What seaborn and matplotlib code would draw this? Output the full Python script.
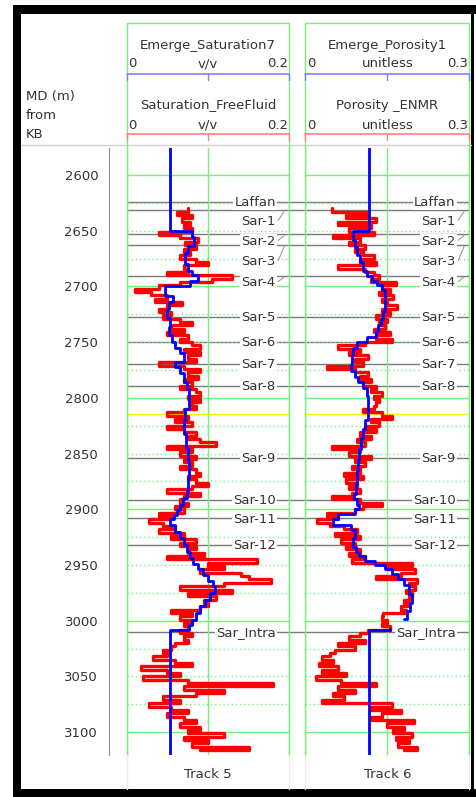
import numpy as np
import pandas as pd
import matplotlib
matplotlib.use("Agg")
import matplotlib.pyplot as plt
import matplotlib.transforms as mtransforms
from matplotlib.patches import Rectangle
from matplotlib.ticker import MultipleLocator
import seaborn as sns

sns.set_theme(style="white")
plt.rcParams['font.family'] = ['DejaVu Sans']

# ---------------- data ----------------
depth_top, depth_bottom = 2575.8, 3120.5
depth_label_ticks = [2600, 2650, 2700, 2750, 2800, 2850, 2900, 2950, 3000, 3050, 3100]
grid_major_depths = [2600, 2700, 2800, 2900, 3000, 3100]

formation_names = ["Laffan", "Sar-1", "Sar-2", "Sar-3", "Sar-4", "Sar-5", "Sar-6", "Sar-7",
                   "Sar-8", "Sar-9", "Sar-10", "Sar-11", "Sar-12", "Sar_Intra"]
formation_depths = [2624.0, 2631.5, 2653.3, 2663.1, 2690.4, 2727.2, 2750.2, 2769.6,
                    2789.4, 2854.3, 2891.7, 2908.1, 2932.1, 3009.9]
formation_label_depths = [2624.6, 2641.5, 2659.4, 2677.6, 2696.5, 2727.6, 2750.6, 2770.0,
                          2789.8, 2854.7, 2892.1, 2909.5, 2932.5, 3010.3]
marker_depth = 2814.5

track5_title = ["Emerge_Saturation7", "Saturation_FreeFluid"]
track6_title = ["Emerge_Porosity1", "Porosity _ENMR"]
track5_unit, track6_unit = "v/v", "unitless"
track5_max, track6_max = 0.2, 0.3

# measured curves, sampled every 3 m from 2630 m
red_top_depth = 2630.0
red_step = 3.0
sat_freefluid = [
    0.075, 0.062, 0.080, 0.068, 0.078, 0.070, 0.080, 0.040, 0.065, 0.088,
    0.072, 0.085, 0.070, 0.078, 0.065, 0.085, 0.100, 0.070, 0.075, 0.050,
    0.130, 0.105, 0.065, 0.040, 0.010, 0.030, 0.050, 0.035, 0.068, 0.050,
    0.040, 0.055, 0.045, 0.065, 0.080, 0.055, 0.070, 0.050, 0.075, 0.065,
    0.080, 0.090, 0.070, 0.090, 0.075, 0.085, 0.040, 0.070, 0.090, 0.075,
    0.088, 0.070, 0.080, 0.065, 0.085, 0.090, 0.075, 0.090, 0.080, 0.085,
    0.070, 0.050, 0.075, 0.060, 0.080, 0.050, 0.070, 0.085, 0.075, 0.090,
    0.110, 0.050, 0.080, 0.065, 0.085, 0.070, 0.080, 0.065, 0.085, 0.090,
    0.075, 0.085, 0.100, 0.080, 0.050, 0.090, 0.070, 0.065, 0.075, 0.060,
    0.070, 0.040, 0.055, 0.028, 0.045, 0.060, 0.040, 0.070, 0.055, 0.085,
    0.065, 0.085, 0.075, 0.095, 0.050, 0.160, 0.100, 0.120, 0.090, 0.140,
    0.150, 0.178, 0.120, 0.065, 0.130, 0.075, 0.110, 0.095, 0.100, 0.090,
    0.055, 0.080, 0.065, 0.080, 0.070, 0.075, 0.065, 0.080, 0.070, 0.075,
    0.060, 0.055, 0.045, 0.050, 0.032, 0.060, 0.080, 0.018, 0.050, 0.065,
    0.020, 0.075, 0.180, 0.070, 0.120, 0.085, 0.045, 0.065, 0.028, 0.055,
    0.075, 0.050, 0.070, 0.085, 0.065, 0.090, 0.075, 0.120, 0.070, 0.100,
    0.080, 0.150, 0.090,
]
porosity_enmr = [
    0.048, 0.115, 0.075, 0.130, 0.060, 0.120, 0.080, 0.125, 0.050, 0.100,
    0.080, 0.110, 0.090, 0.105, 0.125, 0.100, 0.130, 0.060, 0.110, 0.125,
    0.135, 0.120, 0.165, 0.140, 0.155, 0.135, 0.160, 0.140, 0.150, 0.167,
    0.140, 0.155, 0.130, 0.150, 0.135, 0.145, 0.125, 0.155, 0.130, 0.158,
    0.110, 0.060, 0.100, 0.080, 0.115, 0.090, 0.105, 0.040, 0.090, 0.115,
    0.100, 0.120, 0.105, 0.130, 0.120, 0.140, 0.125, 0.135, 0.130, 0.125,
    0.105, 0.140, 0.158, 0.120, 0.135, 0.110, 0.130, 0.100, 0.120, 0.095,
    0.110, 0.048, 0.100, 0.080, 0.120, 0.090, 0.110, 0.085, 0.100, 0.070,
    0.105, 0.075, 0.095, 0.080, 0.100, 0.085, 0.048, 0.100, 0.140, 0.105,
    0.090, 0.040, 0.060, 0.021, 0.045, 0.070, 0.095, 0.055, 0.100, 0.065,
    0.090, 0.075, 0.100, 0.080, 0.110, 0.085, 0.195, 0.150, 0.200, 0.175,
    0.130, 0.205, 0.190, 0.200, 0.185, 0.195, 0.190, 0.180, 0.190, 0.175,
    0.185, 0.143, 0.140, 0.150, 0.140, 0.155, 0.115, 0.100, 0.080, 0.110,
    0.060, 0.090, 0.055, 0.045, 0.030, 0.050, 0.025, 0.060, 0.030, 0.075,
    0.020, 0.065, 0.130, 0.060, 0.090, 0.050, 0.070, 0.030, 0.158, 0.120,
    0.175, 0.140, 0.120, 0.198, 0.150, 0.180, 0.160, 0.195, 0.165, 0.190,
    0.170, 0.205, 0.180,
]

# model curves (blocky)
sat_model_depths = [2575.8, 2650, 2656, 2664, 2670, 2680, 2686, 2690, 2695, 2699.5,
                    2709, 2714, 2720, 2728, 2736, 2744, 2750, 2755, 2760, 2768,
                    2772, 2778, 2786, 2792, 2802, 2810, 2820, 2832, 2845, 2858,
                    2872, 2884, 2890, 2896, 2901, 2905, 2909, 2914, 2920, 2926,
                    2932, 2938, 2944, 2949, 2954, 2959, 2964, 2969, 2975, 2981,
                    2987, 2993, 2999, 3004, 3008.4, 3120.5]
sat_model_values = [0.0533, 0.080, 0.083, 0.075, 0.072, 0.076, 0.080, 0.088, 0.078, 0.047,
                    0.057, 0.052, 0.050, 0.053, 0.052, 0.056, 0.060, 0.066, 0.070, 0.060,
                    0.066, 0.070, 0.074, 0.077, 0.077, 0.072, 0.071, 0.073, 0.075, 0.077,
                    0.076, 0.074, 0.069, 0.066, 0.062, 0.058, 0.053, 0.060, 0.066, 0.070,
                    0.074, 0.078, 0.082, 0.088, 0.094, 0.100, 0.106, 0.108, 0.102, 0.096,
                    0.090, 0.085, 0.080, 0.077, 0.0533, 0.0533]
por_model_depths = [2575.8, 2650, 2658, 2665, 2672, 2678, 2686, 2691, 2695, 2699,
                    2703, 2714, 2722, 2729, 2735, 2740, 2745, 2750, 2755, 2762,
                    2770, 2776, 2781, 2786, 2791, 2798, 2810, 2820, 2828, 2836,
                    2846, 2856, 2866, 2876, 2886, 2891, 2896, 2900, 2904, 2909,
                    2914, 2919, 2926, 2934, 2938, 2942, 2946, 2950, 2954, 2958,
                    2963, 2968, 2976, 2984, 2991, 2998.6]
por_model_values = [0.1165, 0.088, 0.091, 0.095, 0.100, 0.106, 0.112, 0.122, 0.131, 0.140,
                    0.145, 0.146, 0.142, 0.138, 0.133, 0.130, 0.112, 0.095, 0.088, 0.085,
                    0.083, 0.090, 0.097, 0.106, 0.112, 0.115, 0.114, 0.110, 0.106, 0.102,
                    0.099, 0.097, 0.095, 0.092, 0.089, 0.094, 0.099, 0.091, 0.060, 0.051,
                    0.083, 0.091, 0.088, 0.092, 0.098, 0.110, 0.128, 0.145, 0.158, 0.170,
                    0.180, 0.190, 0.195, 0.192, 0.186, 0.180]
por_model_tail_depths = [3007.0, 3008.4, 3120.5]
por_model_tail_values = [0.155, 0.1165, 0.1165]

# ---------------- layout ----------------
W, H = 476, 797
GREEN = "#72f272"
TXT = "#333333"

fig = plt.figure(figsize=(W / 100, H / 100), dpi=100)
fig.patch.set_facecolor("white")


def px_rect(x0, y0, x1, y1):
    return [x0 / W, 1 - y1 / H, (x1 - x0) / W, (y1 - y0) / H]


T5 = (126.7, 289.3)
T6 = (305.3, 469.3)
TOP, BOT = 148, 755

# background axis for formation lines (spanning both tracks)
ax_bg = fig.add_axes(px_rect(T5[0], TOP, T6[1], BOT), zorder=1)
ax_bg.set_xlim(0, 1)
ax_bg.set_ylim(depth_bottom, depth_top)
ax_bg.axis("off")
ax_bg.hlines(formation_depths, 0, 1, color="#7a7a7a", lw=1)

ax5 = fig.add_axes(px_rect(T5[0], TOP, T5[1], BOT), zorder=2)
ax6 = fig.add_axes(px_rect(T6[0], TOP, T6[1], BOT), zorder=2)

df5 = pd.DataFrame({"depth": red_top_depth + red_step * np.arange(len(sat_freefluid)),
                    "value": sat_freefluid})
df6 = pd.DataFrame({"depth": red_top_depth + red_step * np.arange(len(porosity_enmr)),
                    "value": porosity_enmr})
dm5 = pd.DataFrame({"depth": sat_model_depths, "value": sat_model_values})
dm6 = pd.DataFrame({"depth": por_model_depths, "value": por_model_values})
dm6t = pd.DataFrame({"depth": por_model_tail_depths, "value": por_model_tail_values})

for ax, xmax in ((ax5, track5_max), (ax6, track6_max)):
    ax.patch.set_alpha(0)
    ax.set_xlim(0, xmax)
    ax.set_ylim(depth_bottom, depth_top)
    ax.set_xticks([0, xmax / 2, xmax])
    ax.set_yticks(grid_major_depths)
    ax.yaxis.set_minor_locator(MultipleLocator(25))
    ax.grid(True, which="major", axis="both", color=GREEN, lw=1, ls="-")
    ax.grid(True, which="minor", axis="y", color=GREEN, lw=1, ls=(0, (1, 2)))
    ax.set_axisbelow(True)
    ax.tick_params(which="both", length=0, labelleft=False, labelbottom=False)
    for s in ("top", "bottom"):
        ax.spines[s].set_visible(False)
    for s in ("left", "right"):
        ax.spines[s].set_color(GREEN)
        ax.spines[s].set_linewidth(1)
    ax.axhline(marker_depth, color="#f5f500", lw=1, zorder=1.5)

common = dict(sort=False, estimator=None, drawstyle="steps-pre", orient="y", legend=False)
sns.lineplot(data=df5, x="value", y="depth", ax=ax5, color="#ff0000", linewidth=2.4, **common)
sns.lineplot(data=dm5, x="value", y="depth", ax=ax5, color="#0000ff", linewidth=2.0, **common)
sns.lineplot(data=df6, x="value", y="depth", ax=ax6, color="#ff0000", linewidth=2.4, **common)
sns.lineplot(data=dm6, x="value", y="depth", ax=ax6, color="#0000ff", linewidth=2.0, **common)
sns.lineplot(data=dm6t, x="value", y="depth", ax=ax6, color="#0000ff", linewidth=2.0, **common)

for ax, xmax in ((ax5, track5_max), (ax6, track6_max)):
    ax.set_xlabel("")
    ax.set_ylabel("")
    ax.set_xlim(0, xmax)
    ax.set_ylim(depth_bottom, depth_top)
    trans = mtransforms.blended_transform_factory(ax.transAxes, ax.transData)
    for i, (name, d, ld) in enumerate(zip(formation_names, formation_depths, formation_label_depths)):
        ax.text(0.917, ld, name, transform=trans, ha="right", va="center", fontsize=9.5,
                color=TXT, zorder=6,
                bbox=dict(boxstyle="square,pad=0.08", fc="white", ec="none"))
        if 1 <= i <= 4:
            ax.plot([0.932, 0.968], [ld - 0.8, d + 1.2], transform=trans,
                    color="#9a9a9a", lw=0.8, zorder=6)

# depth axis
ax_d = fig.add_axes(px_rect(109.3, TOP, 110.3, BOT), zorder=2)
ax_d.patch.set_alpha(0)
ax_d.set_ylim(depth_bottom, depth_top)
ax_d.set_xticks([])
ax_d.set_yticks(depth_label_ticks)
ax_d.set_yticklabels([str(v) for v in depth_label_ticks])
ax_d.yaxis.set_minor_locator(MultipleLocator(10))
for s in ("top", "bottom", "right"):
    ax_d.spines[s].set_visible(False)
ax_d.spines["left"].set_color("#909090")
ax_d.spines["left"].set_linewidth(0.8)
ax_d.tick_params(axis="y", which="major", direction="out", length=6.5, width=0.8,
                 color="#909090", pad=1.5, labelsize=9.5, labelcolor=TXT)
ax_d.tick_params(axis="y", which="minor", direction="out", length=3.5, width=0.8,
                 color="#909090")

# overlay: header, footer, frame
ov = fig.add_axes([0, 0, 1, 1], zorder=5)
ov.set_xlim(0, W)
ov.set_ylim(H, 0)
ov.axis("off")
ov.patch.set_alpha(0)

ov.plot([20.7, 471], [145, 145], color="#d0d0d0", lw=1)

for (x0, x1), titles, unit, xmax in ((T5, track5_title, track5_unit, track5_max),
                                     (T6, track6_title, track6_unit, track6_max)):
    xm = (x0 + x1) / 2
    ov.plot([x0, x0, x1, x1], [TOP, 23.3, 23.3, TOP], color=GREEN, lw=1)
    for title, ty, sy, ly, col in ((titles[0], 45, 63.5, 74, "#8080ff"),
                                   (titles[1], 105, 125, 134, "#ff8080")):
        ov.text(xm, ty, title, ha="center", va="center", fontsize=9.5, color=TXT)
        ov.text(x0 + 1.5, sy, "0", ha="left", va="center", fontsize=9.5, color=TXT)
        ov.text(xm, sy, unit, ha="center", va="center", fontsize=9.5, color=TXT)
        ov.text(x1 - 1, sy, f"{xmax:g}", ha="right", va="center", fontsize=9.5, color=TXT)
        ov.plot([x0, x1], [ly, ly], color=col, lw=1.2)
        for xt in (x0, xm, x1):
            ov.plot([xt, xt], [ly, ly + 6], color=col, lw=1)
    for xx in (x0, x1):
        ov.plot([xx, xx], [BOT, 789], color="#ececec", lw=1)
ov.text((T5[0] + T5[1]) / 2, 775, "Track 5", ha="center", va="center", fontsize=9.5, color=TXT)
ov.text((T6[0] + T6[1]) / 2, 775, "Track 6", ha="center", va="center", fontsize=9.5, color=TXT)

for yy, s in ((96.5, "MD (m)"), (115.5, "from"), (134.5, "KB")):
    ov.text(25.5, yy, s, ha="left", va="center", fontsize=9.5, color=TXT)

# black frame
ov.add_patch(Rectangle((12.7, 5), 8.0, 792, color="black", lw=0))
ov.add_patch(Rectangle((12.7, 5), 463.3, 9, color="black", lw=0))
ov.add_patch(Rectangle((12.7, 789.3), 463.3, 7.7, color="black", lw=0))
ov.add_patch(Rectangle((471.3, 5), 2.4, 792, color="black", lw=0))

fig.savefig("out.png", dpi=100, facecolor="white")
